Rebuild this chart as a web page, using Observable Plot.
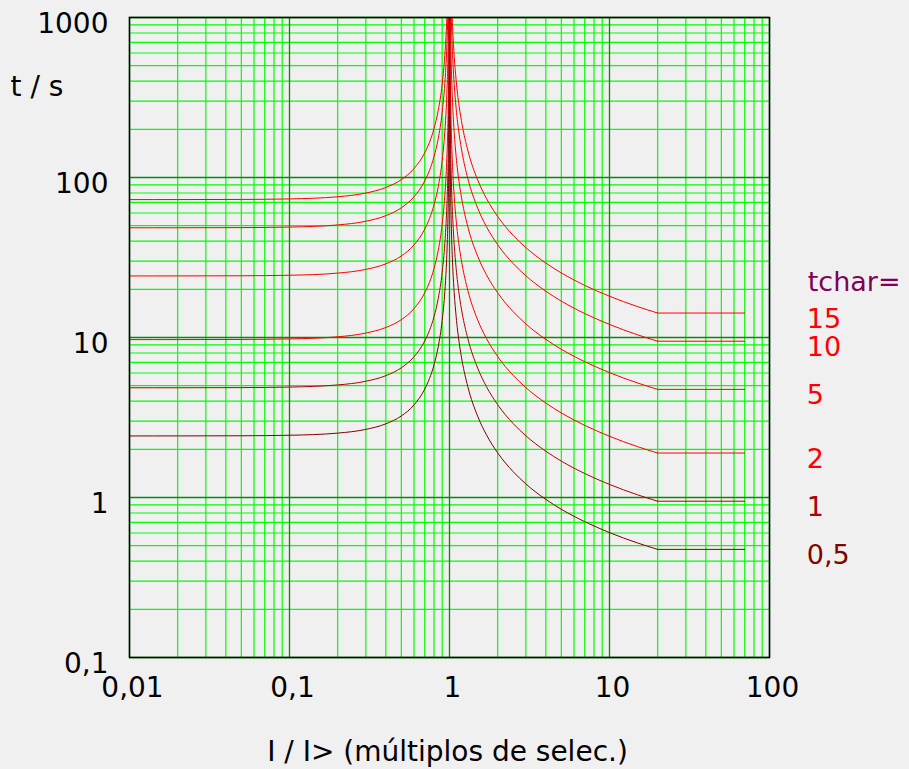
<!DOCTYPE html>
<html><head><meta charset="utf-8">
<script src="https://cdn.jsdelivr.net/npm/d3@7"></script>
<script src="https://cdn.jsdelivr.net/npm/@observablehq/plot@0.6"></script>
<style>html,body{margin:0;padding:0;background:#f0f0f0;}</style>
</head><body><div id="chart"></div>
<script>
// tchar settings (series) and their colours
const tchars = [15, 10, 5, 2, 1, 0.5];
const tcharLabels = ["15", "10", "5", "2", "1", "0,5"];
const curveColors = ["#ff0000", "#ff0000", "#ff0000", "#ff0000", "#b00000", "#800000"];
const labelColors = ["#ff0000", "#ff0000", "#ff0000", "#ff0000", "#aa0000", "#800000"];

// tick values and labels
const xTicks = [0.01, 0.1, 1, 10, 100];
const xTickLabels = ["0,01", "0,1", "1", "10", "100"];
const yTicks = [0.1, 1, 10, 100, 1000];
const yTickLabels = ["0,1", "1", "10", "100", "1000"];

// I/I> sample points, branch below 1
const IL = [0.01,0.02,0.05,0.1,0.2,0.3,0.4,0.5,0.6,0.7,0.75,0.8,0.85,0.9,0.93,0.95,0.96,0.97,0.98,0.985,0.99,0.993,0.995,0.997,0.998,0.999];
// branch above 1
const IR = [1.001,1.002,1.003,1.005,1.007,1.01,1.015,1.02,1.025,1.03,1.035,1.04,1.05,1.07,1.1,1.15,1.2,1.3,1.5,1.7,2,2.5,3,4,5,7,10,15,20,70];

// t / s, left branch (I < 1)
const tL15 = [72.76,72.78,72.93,73.48,75.78,79.95,86.61,97.0,113.7,142.6,166.3,202.1,262.2,382.9,538.5,746.2,927.9,1231];
const tL10 = [48.5,48.52,48.62,48.99,50.52,53.3,57.74,64.67,75.78,95.1,110.9,134.7,174.8,255.3,359.0,497.4,618.6,820.6,1225];
const tL5 = [24.25,24.26,24.31,24.49,25.26,26.65,28.87,32.33,37.89,47.55,55.43,67.36,87.39,127.6,179.5,248.7,309.3,410.3,612.4,814.4,1219];
const tL2 = [9.70,9.704,9.724,9.798,10.10,10.66,11.55,12.93,15.16,19.02,22.17,26.94,34.95,51.05,71.8,99.5,123.7,164.1,245.0,325.8,487.4,695.3,972.4,1619];
const tL1 = [4.85,4.852,4.862,4.899,5.052,5.33,5.774,6.467,7.578,9.51,11.09,13.47,17.48,25.53,35.9,49.74,61.86,82.06,122.5,162.9,243.7,347.6,486.2,809.6,1214];
const tL05 = [2.425,2.426,2.431,2.449,2.526,2.665,2.887,3.233,3.789,4.755,5.543,6.736,8.739,12.76,17.95,24.87,30.93,41.03,61.24,81.44,121.9,173.8,243.1,404.8,606.9,1213];

// t / s, right branch (I > 1)
const tR15 = [null,null,null,null,null,null,null,null,null,1308,1124,986.1,793.1,572.3,406.7,277.7,213.2,148.5,96.6,74.1,57.05,43.49,36.48,29.19,25.32,21.18,18.11,15.59,14.22,14.22];
const tR10 = [null,null,null,null,null,null,null,1301,1044,872,749.4,657.4,528.7,381.5,271.1,185.1,142.1,99.03,64.39,49.41,38.03,28.99,24.32,19.46,16.88,14.12,12.07,10.39,9.48,9.48];
const tR5 = [null,null,null,null,null,1294.5,865,650.5,521.9,436,374.7,328.7,264.4,190.8,135.6,92.55,71.05,49.52,32.2,24.71,19.02,14.5,12.16,9.73,8.44,7.06,6.035,5.195,4.74,4.74];
const tR2 = [null,null,1719,1032.8,738.4,517.8,346,260.2,208.7,174.4,149.9,131.5,105.7,76.3,54.22,37.02,28.42,19.81,12.88,9.882,7.606,5.798,4.864,3.892,3.376,2.824,2.414,2.078,1.896,1.896];
const tR1 = [null,1289,859.7,516.4,369.2,258.9,173,130.1,104.4,87.2,74.94,65.74,52.87,38.15,27.11,18.51,14.21,9.903,6.439,4.941,3.803,2.899,2.432,1.946,1.688,1.412,1.207,1.039,0.948,0.948];
const tR05 = [1288,644.5,429.9,258.2,184.6,129.5,86.5,65.05,52.2,43.6,37.47,32.87,26.44,19.08,13.56,9.255,7.105,4.952,3.22,2.471,1.902,1.45,1.216,0.973,0.844,0.706,0.6035,0.5195,0.474,0.474];

const leftSeries = [tL15, tL10, tL5, tL2, tL1, tL05];
const rightSeries = [tR15, tR10, tR5, tR2, tR1, tR05];

// build tidy rows: smooth curve parts and the flat tail (I >= 20) separately
const curveRows = [];
const flatTailRows = [];
tchars.forEach((tc, s) => {
  leftSeries[s].forEach((t, i) => curveRows.push({key: tc + "L", I: IL[i], t, color: curveColors[s]}));
  rightSeries[s].forEach((t, i) => {
    if (t == null) return;
    if (IR[i] <= 20) curveRows.push({key: tc + "R", I: IR[i], t, color: curveColors[s]});
    if (IR[i] >= 20) flatTailRows.push({key: tc + "F", I: IR[i], t, color: curveColors[s]});
  });
});
const flatRows = tchars.map((tc, s) => ({tc, I: IR[IR.length - 1], t: rightSeries[s][rightSeries[s].length - 1], label: tcharLabels[s], color: labelColors[s]}));

const allX = d3.scaleLog().domain([0.01, 100]).ticks();
const allY = d3.scaleLog().domain([0.1, 1000]).ticks();
const minorX = allX.filter(v => !xTicks.some(m => Math.abs(m - v) / m < 1e-9));
const minorY = allY.filter(v => !yTicks.some(m => Math.abs(m - v) / m < 1e-9));

const chart = Plot.plot({
  width: 909,
  height: 769,
  marginTop: 17,
  marginLeft: 129,
  marginRight: 140,
  marginBottom: 112,
  style: {background: "#f0f0f0", fontFamily: "'DejaVu Sans', sans-serif", fontSize: "28px", color: "black"},
  x: {type: "log", domain: [0.01, 100], axis: null},
  y: {type: "log", domain: [0.1, 1000], axis: null},
  marks: [
    Plot.ruleX(minorX, {x: d => d, stroke: "#00ff00", strokeWidth: 1.2}),
    Plot.ruleY(minorY, {y: d => d, stroke: "#00ff00", strokeWidth: 1.2}),
    Plot.ruleX(xTicks, {x: d => d, stroke: "#008c00", strokeWidth: 1.3}),
    Plot.ruleY(yTicks, {y: d => d, stroke: "#008c00", strokeWidth: 1.3}),
    Plot.line(curveRows, {x: "I", y: "t", z: "key", stroke: "color", strokeWidth: 1, curve: "monotone-x", clip: true}),
    Plot.line(flatTailRows, {x: "I", y: "t", z: "key", stroke: "color", strokeWidth: 1, clip: true}),
    Plot.frame({stroke: "black", strokeWidth: 1.5}),
    Plot.text(xTicks, {x: d => d, frameAnchor: "bottom", text: (d, i) => xTickLabels[i], dy: 39, dx: 3, fill: "black"}),
    Plot.text(yTicks, {y: d => d, frameAnchor: "left", text: (d, i) => yTickLabels[i], textAnchor: "end", dx: -21, dy: 7, fill: "black"}),
    Plot.text(flatRows, {x: "I", y: "t", text: "label", fill: "color", textAnchor: "start", dx: 62, dy: 6, fontSize: 27}),
    Plot.text(flatRows.slice(0, 1), {x: "I", y: "t", text: () => "tchar=", fill: "#800055", textAnchor: "start", dx: 63, dy: -31, fontSize: 27}),
    Plot.text(["t / s"], {frameAnchor: "top-left", text: d => d, textAnchor: "start", dx: -119, dy: 59, fill: "black"}),
    Plot.text(["I / I> (múltiplos de selec.)"], {frameAnchor: "bottom", text: d => d, dy: 103, dx: -2, fill: "black"})
  ]
});
document.getElementById("chart").appendChild(chart);
</script>
</body></html>
